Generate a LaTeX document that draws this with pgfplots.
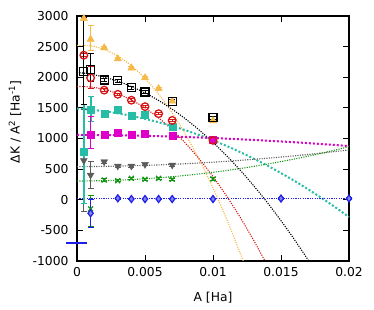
\documentclass[border=0pt]{standalone}
\usepackage{fontspec}
\setmainfont{DejaVu Sans}
\usepackage{pgfplots}
\pgfplotsset{compat=1.18}
\usepackage{pgfplotstable}
\definecolor{cgold}{RGB}{246,184,70}
\definecolor{cred}{RGB}{214,20,20}
\definecolor{cteal}{RGB}{38,188,165}
\definecolor{cmag}{RGB}{222,0,200}
\definecolor{cgray}{RGB}{92,92,92}
\definecolor{cgreen}{RGB}{20,150,20}
\definecolor{cblue}{RGB}{30,30,230}

\pgfplotstableread{
x y ep em
0.0005 2960 20 20
0.001 2620 230 180
0.002 2480 20 20
0.003 2300 20 20
0.004 2150 20 20
0.005 1990 20 20
0.006 1815 20 20
0.007 1610 20 20
0.01 1290 20 20
}\orangepts
\pgfplotstableread{
x y ep em
0.0005 2090 880 540
0.001 2130 260 200
0.002 1955 25 25
0.003 1945 25 25
0.004 1830 25 25
0.005 1758 25 25
0.007 1605 25 25
0.01 1340 25 25
}\blackpts
\pgfplotstableread{
x y ep em
0.0005 2360 20 20
0.001 1990 180 180
0.002 1790 20 20
0.003 1722 20 20
0.004 1625 20 20
0.005 1520 20 20
0.006 1405 20 20
0.007 1295 20 20
0.01 970 20 20
}\redpts
\pgfplotstableread{
x y ep em
0.0005 785 770 840
0.001 1477 205 200
0.002 1410 25 25
0.003 1470 25 25
0.004 1375 25 25
0.005 1395 25 25
0.007 1185 60 60
}\tealpts
\pgfplotstableread{
x y ep em
0.001 1060 300 220
0.002 1057 20 20
0.003 1100 20 20
0.004 1070 20 20
0.005 1072 20 20
0.007 1050 20 20
0.01 985 20 20
}\magpts
\pgfplotstableread{
x y ep em
0.0005 640 830 830
0.001 404 217 217
0.002 621 25 25
0.003 551 20 20
0.004 551 20 20
0.005 578 20 20
0.007 567 20 20
}\graypts
\pgfplotstableread{
x y ep em
0.001 -150 227 286
0.002 322 25 25
0.003 311 20 20
0.004 350 20 20
0.005 334 20 20
0.006 350 20 20
0.007 334 20 20
0.01 340 20 20
}\greenpts
\pgfplotstableread{
x y ep em
0.001 -220 230 230
0.003 24 15 15
0.004 12 15 15
0.005 12 15 15
0.006 12 15 15
0.007 12 15 15
0.01 12 15 15
0.015 20 15 15
0.02 20 15 15
}\bluepts

\begin{document}
\begin{tikzpicture}[font=\fontsize{12.3}{14}\selectfont]
\useasboundingbox (-77pt,-48pt) rectangle (297pt,261pt);
\begin{axis}[
  width=272pt, height=245pt, scale only axis,
  xmin=0, xmax=0.02, ymin=-1000, ymax=3000,
  clip=false,
  xtick={0,0.005,0.01,0.015,0.02},
  xticklabels={0,0.005,0.01,0.015,0.02},
  ytick={-1000,-500,0,500,1000,1500,2000,2500,3000},
  yticklabels={-1000,-500,0,500,1000,1500,2000,2500,3000},
  scaled x ticks=false,
  tick align=inside, major tick length=6pt,
  xtick pos=both, ytick pos=both,
  axis line style={line width=1.2pt},
  tick style={line width=1pt, black},
  xticklabel style={yshift=-3pt, font=\fontsize{12.3}{14}\selectfont},
  yticklabel style={xshift=-5pt, font=\fontsize{12.3}{14}\selectfont},
  xlabel={A [Ha]},
  ylabel={ΔK / A\textsuperscript{2} [Ha\textsuperscript{-1}]},
  every axis x label/.style={at={(axis description cs:0.5,-0.151)}, anchor=center, font=\fontsize{12.3}{14}\selectfont},
  every axis y label/.style={at={(axis description cs:-0.228,0.567)}, anchor=center, rotate=90, font=\fontsize{12.3}{14}\selectfont},
  every error bar/.style={line width=1pt},
]
% fit lines
\addplot[cgold, line width=1.1pt, dash pattern=on 1.1pt off 1.3pt, smooth] coordinates {
(0,2520) (0.001,2512) (0.002,2455) (0.003,2347) (0.004,2189) (0.005,1982) (0.006,1724) (0.007,1416) (0.008,1058) (0.009,651) (0.010,193) (0.011,-315) (0.012,-872) (0.01222,-1000)};
\addplot[cred, line width=1.1pt, dash pattern=on 1.1pt off 1.3pt, smooth] coordinates {
(0,1850) (0.001,1841) (0.002,1802) (0.003,1731) (0.004,1630) (0.005,1498) (0.006,1336) (0.007,1142) (0.008,918) (0.009,662) (0.010,377) (0.011,60) (0.012,-288) (0.013,-666) (0.01382,-1000)};
\addplot[black, line width=1.1pt, dash pattern=on 1.1pt off 1.3pt, smooth] coordinates {
(0,2080) (0.001,2051) (0.002,2002) (0.003,1935) (0.004,1849) (0.005,1744) (0.006,1621) (0.007,1478) (0.008,1316) (0.009,1136) (0.010,937) (0.011,719) (0.012,482) (0.013,226) (0.014,-48) (0.015,-342) (0.016,-654) (0.017,-985) (0.01704,-1000)};
\addplot[cteal, line width=2pt, dash pattern=on 2pt off 2pt, smooth] coordinates {
(0,1490) (0.001,1471) (0.002,1445) (0.003,1411) (0.004,1370) (0.005,1321) (0.006,1266) (0.007,1203) (0.008,1133) (0.009,1055) (0.010,970) (0.011,878) (0.012,778) (0.013,671) (0.014,557) (0.015,435) (0.016,307) (0.017,170) (0.018,27) (0.019,-124) (0.020,-282)};
\addplot[cmag, line width=2pt, dash pattern=on 2pt off 2pt, smooth] coordinates {
(0,1060) (0.0025,1054) (0.005,1044) (0.0075,1028) (0.01,1008) (0.0125,982) (0.015,952) (0.0175,917) (0.02,877)};
\addplot[cgray, line width=1.1pt, dash pattern=on 1.1pt off 1.3pt, smooth] coordinates {
(0,540) (0.0025,547) (0.005,561) (0.0075,583) (0.01,613) (0.0125,652) (0.015,697) (0.0175,751) (0.02,813)};
\addplot[cgreen, line width=1.1pt, dash pattern=on 1.1pt off 1.3pt, smooth] coordinates {
(0,305) (0.0025,315) (0.005,342) (0.0075,387) (0.01,448) (0.0125,527) (0.015,623) (0.0175,736) (0.02,866)};
\addplot[cblue, line width=1.1pt, dash pattern=on 1.1pt off 1.3pt] coordinates {(0,15) (0.02,15)};
\addplot[cblue, line width=2.2pt] coordinates {(-0.0008,-700) (0.0007,-700)};
% points
\addplot[only marks, cgreen, mark=x, mark size=3.5pt, mark options={solid, line width=1.2pt},
  error bars/.cd, y dir=both, y explicit, error mark options={rotate=90, mark size=3pt, line width=1pt}]
  table[x=x, y=y, y error plus=ep, y error minus=em]{\greenpts};
\addplot[only marks, cblue, mark=diamond*, mark size=3.5pt, mark options={solid, line width=1.2pt, fill=cblue!55!white},
  error bars/.cd, y dir=both, y explicit, error mark options={rotate=90, mark size=3pt, line width=1pt}]
  table[x=x, y=y, y error plus=ep, y error minus=em]{\bluepts};
\addplot[only marks, cgray, mark=triangle*, mark size=4pt, mark options={solid, rotate=180, fill=cgray},
  error bars/.cd, y dir=both, y explicit, error mark options={rotate=90, mark size=3pt, line width=1pt}]
  table[x=x, y=y, y error plus=ep, y error minus=em]{\graypts};
\addplot[only marks, cteal, mark=square*, mark size=3.5pt, mark options={solid, fill=cteal},
  error bars/.cd, y dir=both, y explicit, error mark options={rotate=90, mark size=3pt, line width=1pt}, error bar style={line width=2pt}]
  table[x=x, y=y, y error plus=ep, y error minus=em]{\tealpts};
\addplot[only marks, cmag, mark=square*, mark size=3.5pt, mark options={solid, fill=cmag},
  error bars/.cd, y dir=both, y explicit, error mark options={rotate=90, mark size=3pt, line width=1pt}, error bar style={line width=1.6pt}]
  table[x=x, y=y, y error plus=ep, y error minus=em]{\magpts};
\addplot[only marks, cgold, mark=triangle*, mark size=4.2pt, mark options={solid, fill=cgold},
  error bars/.cd, y dir=both, y explicit, error mark options={rotate=90, mark size=3pt, line width=1pt}, error bar style={line width=1.6pt}]
  table[x=x, y=y, y error plus=ep, y error minus=em]{\orangepts};
\addplot[only marks, cred, mark=o, mark size=3.8pt, mark options={solid, line width=1.3pt},
  error bars/.cd, y dir=both, y explicit, error mark options={rotate=90, mark size=3pt, line width=1pt}]
  table[x=x, y=y, y error plus=ep, y error minus=em]{\redpts};
\addplot[only marks, black, mark=square, mark size=4pt, mark options={solid, line width=1.3pt},
  error bars/.cd, y dir=both, y explicit, error mark options={rotate=90, mark size=3pt, line width=1pt}]
  table[x=x, y=y, y error plus=ep, y error minus=em]{\blackpts};
\end{axis}
\end{tikzpicture}
\end{document}
